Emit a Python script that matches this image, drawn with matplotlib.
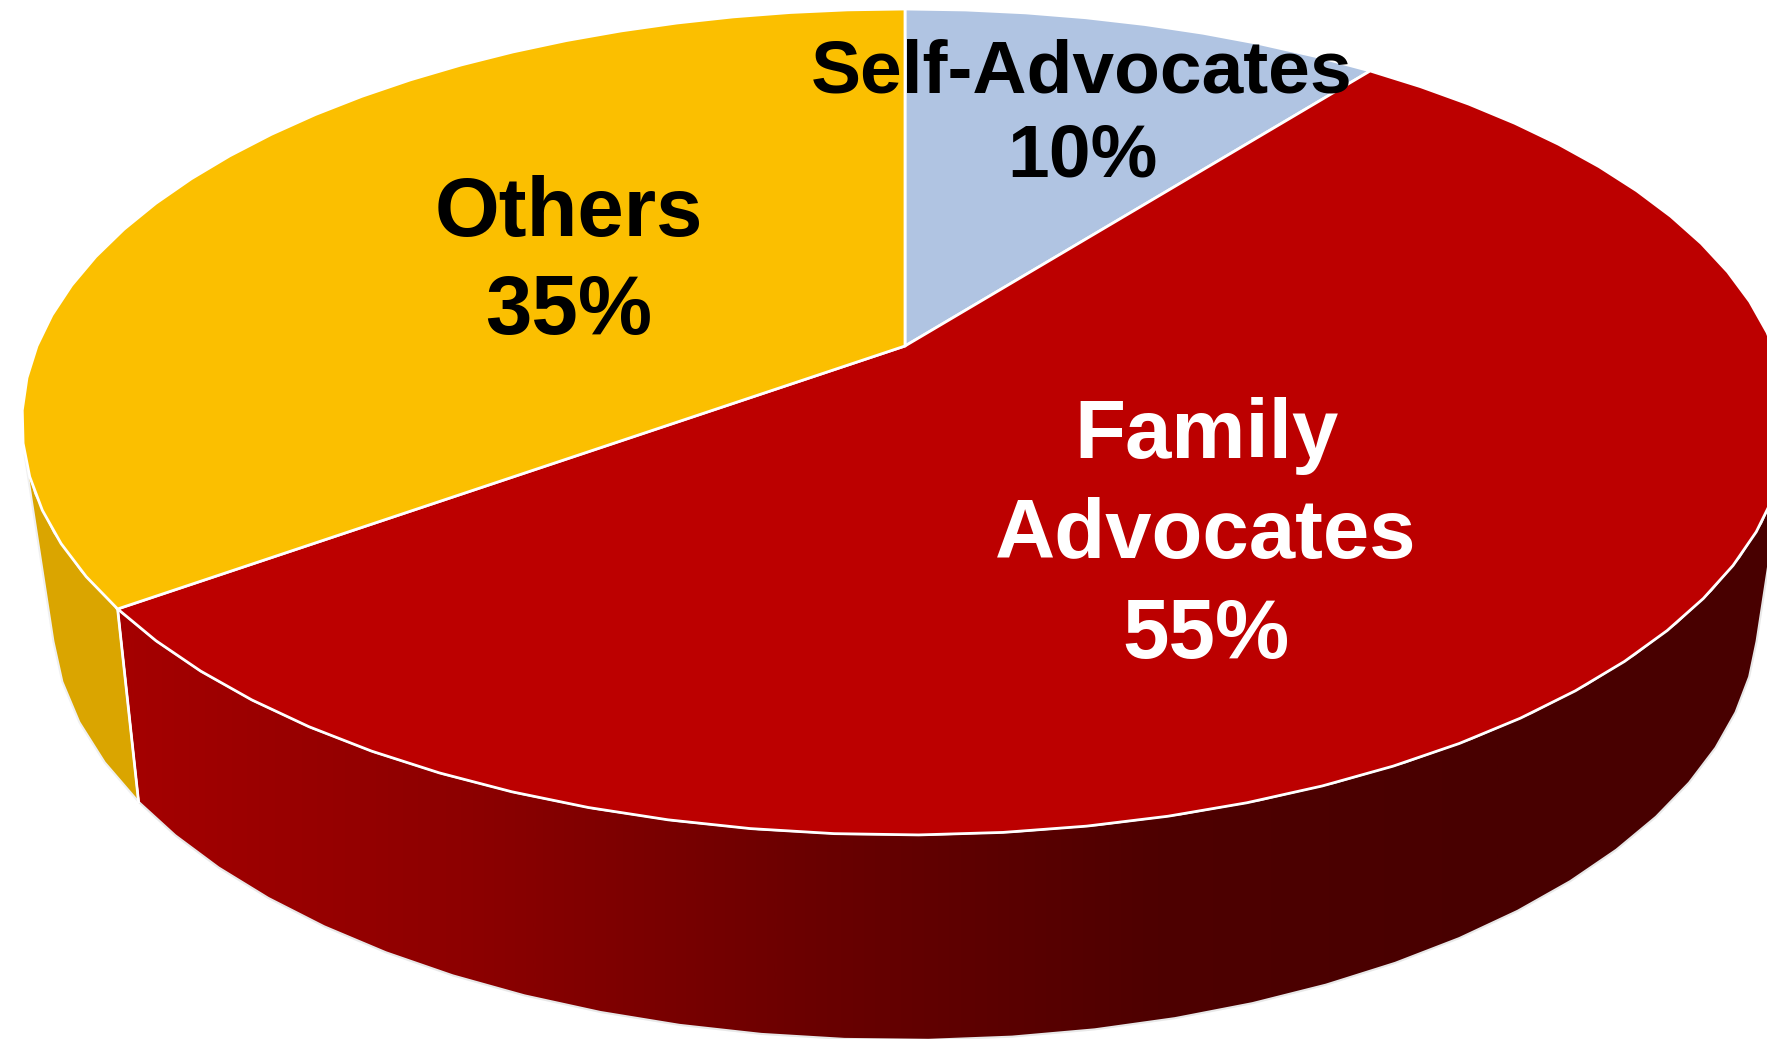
import numpy as np
import matplotlib
matplotlib.use('Agg')
import matplotlib.pyplot as plt
from matplotlib.colors import LinearSegmentedColormap
from matplotlib.patches import Polygon

# pie data, clockwise from 12 o'clock
labels = ['Self-Advocates', 'Family\nAdvocates', 'Others']
shares = [10, 55, 35]
top_colors = ['#B0C4E2', '#BC0000', '#FBBF00']
text_colors = ['black', 'white', 'black']
label_pos = [(1082, 73), (1206, 436), (569, 214)]
label_size = [54, 60, 60]
label_line = [84, 100, 98]

W, H = 1767, 1039

# projection of the top and bottom rims, in image pixels
TOP = dict(cy=346, a=868, b=399, k=0.184)
BOT = dict(cy=530, a=836, b=408, k=0.2)
CX = 905
SIL_RIGHT, SIL_LEFT = 105, 255  # where the side wall disappears behind the top
STEP = 4.5  # the 3D rim is drawn with straight segments


def rim(deg, r):
    t = np.radians(deg)
    d = 1 + r['k'] * np.cos(t)
    return np.column_stack([CX + r['a'] * np.sin(t) / d, r['cy'] - r['b'] * np.cos(t) / d])


def arc(start, end, r):
    n = max(2, int(abs(end - start) / STEP) + 1)
    return rim(np.linspace(start, end, n), r)


def edge_angle(deg):
    # the 3D rendering pushes the first slice edge round a little
    return deg + 4.0 * np.sin(np.pi * deg / 234) if deg < 234 else deg


fig = plt.figure(figsize=(W / 100, H / 100), dpi=100)
ax = fig.add_axes([0, 0, 1, 1])
ax.set_xlim(0, W)
ax.set_ylim(H, 0)
ax.axis('off')

edges = [0] + list(np.cumsum(shares) * 3.6)
edges = [edge_angle(e) for e in edges]

# side wall: red part with gradient, yellow part flat
red_end = edges[2]
red_side = np.vstack([arc(SIL_RIGHT, red_end, TOP), arc(red_end, SIL_RIGHT, BOT)])
poly = Polygon(red_side, closed=True, fc='none', ec='#E8E8E8', lw=1.5, zorder=2)
ax.add_patch(poly)
side_cmap = LinearSegmentedColormap.from_list('side', ['#A40000', '#8C0000', '#6A0000', '#4E0000', '#480000'])
grad = ax.imshow(np.linspace(0, 1, 512)[None, :], extent=[130, 1500, H, 0], cmap=side_cmap,
                 aspect='auto', zorder=1)
grad.set_clip_path(poly)
# imshow stops at its extent, so fill the ends flat
for x0, x1, c in [(0, 130, '#A40000'), (1500, W, '#480000')]:
    end = ax.fill_between([x0, x1], 0, H, color=c, lw=0, zorder=1)
    end.set_clip_path(poly)

ax.add_patch(Polygon(np.vstack([arc(red_end, SIL_LEFT, TOP), arc(SIL_LEFT, red_end, BOT)]),
                     closed=True, fc='#DAA500', ec='#F0F0F0', lw=1.5, zorder=2))
ax.plot(*np.array([rim(red_end, TOP)[0], rim(red_end, BOT)[0]]).T, color='white', lw=2, zorder=3)
ax.set_xlim(0, W)
ax.set_ylim(H, 0)

# top face
apex = [CX, TOP['cy']]
for i, c in enumerate(top_colors):
    pts = np.vstack([[apex], arc(edges[i], edges[i + 1], TOP)])
    ax.add_patch(Polygon(pts, closed=True, fc=c, ec='white', lw=2, joinstyle='miter', zorder=4))

for lab, pct, col, (x, y), size, step in zip(labels, shares, text_colors, label_pos, label_size, label_line):
    lines = lab.split('\n') + [f'{pct}%']
    for n, line in enumerate(lines):
        ax.text(x, y + n * step, line, color=col, ha='center', va='center',
                fontsize=size, fontweight='bold', family='Liberation Sans', zorder=5)

fig.savefig('out.png', dpi=100)
